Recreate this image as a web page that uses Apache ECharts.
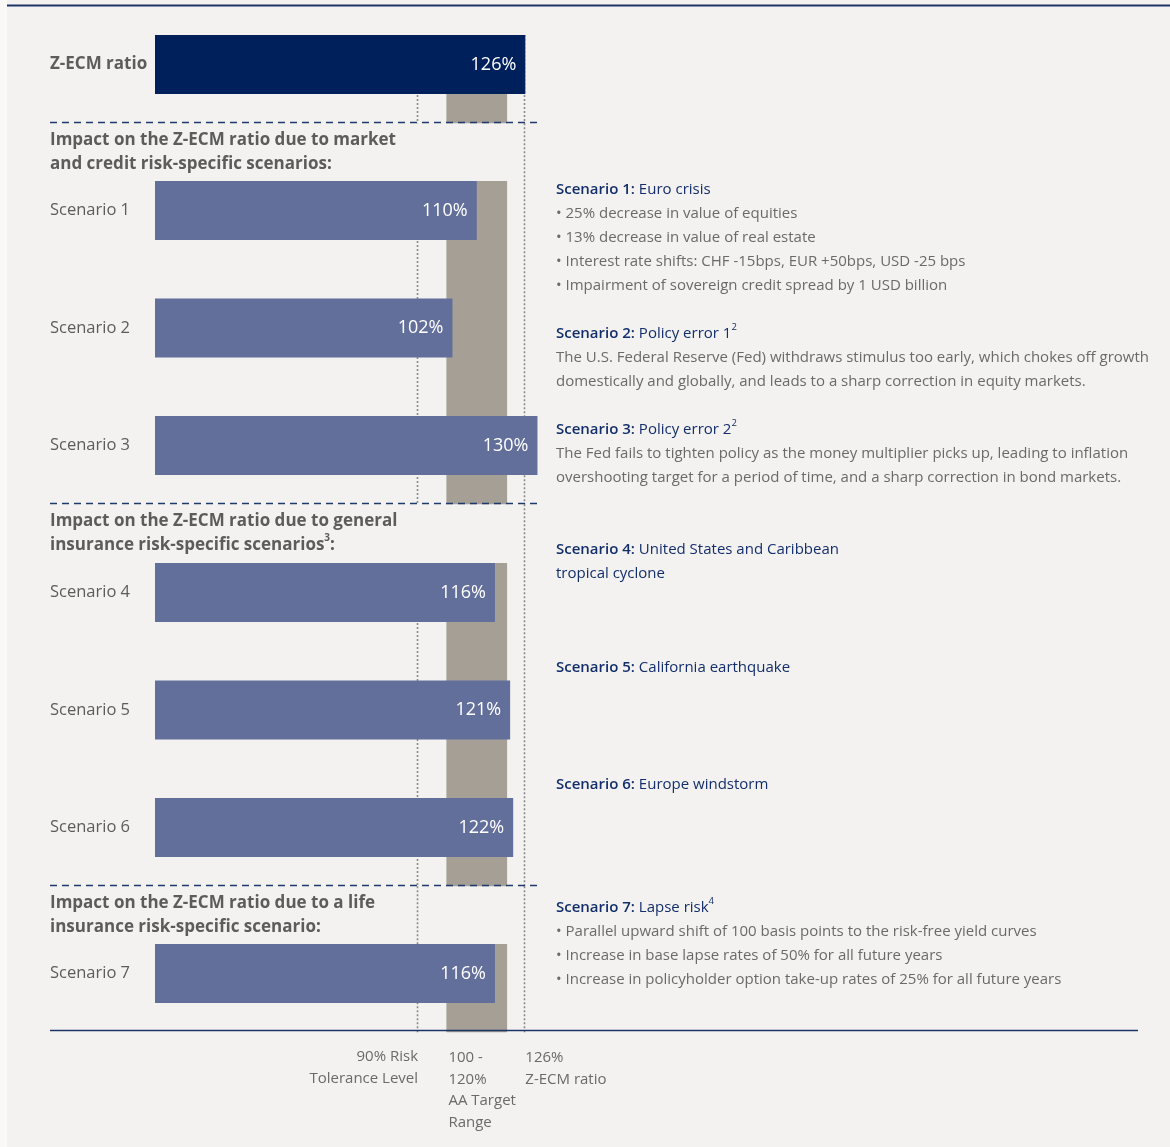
<!DOCTYPE html>
<html><head><meta charset="utf-8">
<script src="https://cdn.jsdelivr.net/npm/echarts@6/dist/echarts.min.js"></script>
<style>html,body{margin:0;padding:0;background:#f3f2f0;} #c{width:1170px;height:1147px;}</style>
</head><body><div id="c"></div>
<script>
// ---------------- DATA ----------------
const sectionCategories = [
  ["Z-ECM ratio"],
  ["Scenario 1", "Scenario 2", "Scenario 3"],
  ["Scenario 4", "Scenario 5", "Scenario 6"],
  ["Scenario 7"]
];
const sectionValues = [
  [126],
  [110, 102, 130],
  [116, 121, 122],
  [116]
];
const sectionHeaders = [
  null,
  ["Impact on the Z-ECM ratio due to market", "and credit risk-specific scenarios:"],
  ["Impact on the Z-ECM ratio due to general", "insurance risk-specific scenarios{sup|3}:"],
  ["Impact on the Z-ECM ratio due to a life", "insurance risk-specific scenario:"]
];
const riskTolerance = 90;
const targetRange = [100, 120];
const currentRatio = 126;
const axisMin = 4, axisMax = 134;

const scenarioLabels = ["Scenario 1:", "Scenario 2:", "Scenario 3:", "Scenario 4:", "Scenario 5:", "Scenario 6:", "Scenario 7:"];
const scenarioNames = [
  "Euro crisis",
  "Policy error 1{sup|2}",
  "Policy error 2{sup|2}",
  "United States and Caribbean\ntropical cyclone",
  "California earthquake",
  "Europe windstorm",
  "Lapse risk{sup|4}"
];
const scenarioDetails = [
  ["• 25% decrease in value of equities",
   "• 13% decrease in value of real estate",
   "• Interest rate shifts: CHF -15bps, EUR +50bps, USD -25 bps",
   "• Impairment of sovereign credit spread by 1 USD billion"],
  ["The U.S. Federal Reserve (Fed) withdraws stimulus too early, which chokes off growth",
   "domestically and globally, and leads to a sharp correction in equity markets."],
  ["The Fed fails to tighten policy as the money multiplier picks up, leading to inflation",
   "overshooting target for a period of time, and a sharp correction in bond markets."],
  [], [], [],
  ["• Parallel upward shift of 100 basis points to the risk-free yield curves",
   "• Increase in base lapse rates of 50% for all future years",
   "• Increase in policyholder option take-up rates of 25% for all future years"]
];
const footLabels = {
  tolerance: "90% Risk\nTolerance Level",
  target: "100 -\n120%\nAA Target\nRange",
  current: "126%\nZ-ECM ratio"
};

// ---------------- STYLE / LAYOUT ----------------
const FONT = "'Open Sans', 'Noto Sans', sans-serif";
const BG = '#f3f2f0';
const NAVY = '#00205b';
const BAR_COLOR = '#636f9b';
const BAND = '#a69f96';
const DOT = '#8a8a8a';
const DASH = '#1f3a6d';
const GRAY_TEXT = '#5c5c5c';
const BODY_TEXT = '#6a6a6a';
const TITLE_NAVY = '#132e6b';
const BAR_H = 59;
const BAND_H = 117.5;
const GRID_LEFT = 155, GRID_WIDTH = 394.6;
const gridTops = [5.75, 151.75, 533.75, 914.75];
const gridHeights = sectionCategories.map(c => c.length * BAND_H);
const tolFromPrev = [false, false, false, true];
const titleCenters = [188, 332, 428, 548, 666, 783, 906];
const LINE_H = 24;
const BODY_FS = 15;

const chart = echarts.init(document.getElementById('c'), null, {renderer: 'canvas'});

const grids = [], xAxes = [], yAxes = [], series = [];
sectionCategories.forEach((cats, i) => {
  grids.push({left: GRID_LEFT, width: GRID_WIDTH, top: gridTops[i], height: gridHeights[i]});
  xAxes.push({type: 'value', gridIndex: i, min: axisMin, max: axisMax, show: false});
  yAxes.push({
    type: 'category', gridIndex: i, data: cats, inverse: true,
    axisLine: {show: false}, axisTick: {show: false}, splitLine: {show: false},
    axisLabel: {
      align: 'left', margin: GRID_LEFT - 50, color: GRAY_TEXT,
      fontSize: i === 0 ? 17 : 16.5, fontFamily: FONT, fontWeight: i === 0 ? 'bold' : 'normal'
    }
  });
  series.push({
    type: 'custom', xAxisIndex: i, yAxisIndex: i, z: 1, clip: false, silent: true,
    data: [[targetRange[0], 0]], encode: {x: 0, y: 1},
    renderItem: function (params, api) {
      const cs = params.coordSys;
      const bottom = cs.y + cs.height;
      const prevBottom = i === 0 ? cs.y : gridTops[i - 1] + gridHeights[i - 1];
      const c0 = api.coord([targetRange[0], 0]);
      const c1 = api.coord([targetRange[1], 0]);
      const barTop = c0[1] - BAR_H / 2;
      const xTol = Math.round(api.coord([riskTolerance, 0])[0]) + 1.5;
      const xCur = Math.round(api.coord([currentRatio, 0])[0]) - 0.5;
      const tolTop = tolFromPrev[i] ? prevBottom : barTop;
      const curTop = i === 0 ? barTop : prevBottom;
      return {type: 'group', children: [
        {type: 'rect', shape: {x: c0[0], y: barTop, width: c1[0] - c0[0], height: bottom - barTop}, style: {fill: BAND}},
        {type: 'line', shape: {x1: xTol, y1: tolTop, x2: xTol, y2: bottom}, style: {stroke: DOT, lineWidth: 1.6, lineDash: [2, 2]}},
        {type: 'line', shape: {x1: xCur, y1: curTop, x2: xCur, y2: bottom}, style: {stroke: DOT, lineWidth: 1.6, lineDash: [2, 2]}}
      ]};
    }
  });
  series.push({
    type: 'bar', xAxisIndex: i, yAxisIndex: i, z: 2, barWidth: BAR_H,
    data: sectionValues[i],
    itemStyle: {color: i === 0 ? NAVY : BAR_COLOR},
    label: {show: true, position: 'insideRight', distance: 9, formatter: '{c}%',
            color: '#ffffff', fontSize: 18, fontFamily: FONT},
    silent: true
  });
});

chart.setOption({
  backgroundColor: BG,
  animation: false,
  grid: grids, xAxis: xAxes, yAxis: yAxes, series: series
});

// ---------------- GRAPHICS (text + rules) ----------------
const g = [];
g.push({type: 'rect', shape: {x: 0, y: 0, width: 7, height: 1147}, style: {fill: '#fbf8f8'}, z: 0});
g.push({type: 'line', shape: {x1: 7, y1: 5.5, x2: 1170, y2: 5.5}, style: {stroke: '#1d3467', lineWidth: 1.8}});
for (let i = 0; i < 3; i++) {
  const y = Math.round(gridTops[i] + gridHeights[i]) - 0.5;
  g.push({type: 'line', shape: {x1: 50, y1: y, x2: 537, y2: y}, style: {stroke: DASH, lineWidth: 1.5, lineDash: [7, 5]}, z: 10});
}
const axisY = Math.round(gridTops[3] + gridHeights[3]) - 1.5;
g.push({type: 'line', shape: {x1: 50, y1: axisY, x2: 1138, y2: axisY}, style: {stroke: '#1d3467', lineWidth: 1.5}, z: 10});

sectionHeaders.forEach((h, i) => {
  if (!h) return;
  const top = gridTops[i - 1] + gridHeights[i - 1] + 4.5;
  g.push({type: 'text', x: 50, y: top, style: {
    text: h.join('\n'), fill: GRAY_TEXT, fontSize: 17, fontWeight: 'bold', fontFamily: FONT,
    lineHeight: LINE_H, verticalAlign: 'top',
    rich: {sup: {fontSize: 10, fontWeight: 'bold', fontFamily: FONT, fill: GRAY_TEXT, verticalAlign: 'top', lineHeight: LINE_H, padding: [0,0,6,0]}}
  }});
});

scenarioLabels.forEach((lab, k) => {
  const nameLines = scenarioNames[k].split('\n');
  const lines = ['{t|' + lab + '} {n|' + nameLines[0].replace(/\{sup\|(\d)\}/, '}{sup|$1}{n|') + '}'];
  for (let j = 1; j < nameLines.length; j++) lines.push('{n|' + nameLines[j] + '}');
  scenarioDetails[k].forEach(l => lines.push('{b|' + l + '}'));
  g.push({type: 'text', x: 556, y: titleCenters[k] - LINE_H / 2 + 2, style: {
    text: lines.join('\n'), fontFamily: FONT, fontSize: BODY_FS, lineHeight: LINE_H, verticalAlign: 'top', fill: BODY_TEXT,
    rich: {
      t: {fill: TITLE_NAVY, fontSize: BODY_FS, fontWeight: 600, fontFamily: FONT, lineHeight: LINE_H},
      n: {fill: TITLE_NAVY, fontSize: BODY_FS, fontFamily: FONT, lineHeight: LINE_H},
      b: {fill: BODY_TEXT, fontSize: BODY_FS, fontFamily: FONT, lineHeight: LINE_H},
      sup: {fill: TITLE_NAVY, fontSize: 9.5, fontFamily: FONT, lineHeight: LINE_H, verticalAlign: 'top', padding: [0,0,6,0]}
    }
  }});
});

const xTolPx = chart.convertToPixel({gridIndex: 3}, [riskTolerance, 0])[0];
const xTgtPx = chart.convertToPixel({gridIndex: 3}, [targetRange[0], 0])[0];
const xCurPx = chart.convertToPixel({gridIndex: 3}, [currentRatio, 0])[0];
const footStyle = {fill: BODY_TEXT, fontSize: 15, fontFamily: FONT, lineHeight: 21.5, verticalAlign: 'top'};
g.push({type: 'text', x: xTolPx + 2, y: 1046, style: Object.assign({}, footStyle, {text: footLabels.tolerance, align: 'right'})});
g.push({type: 'text', x: xTgtPx + 2, y: 1047, style: Object.assign({}, footStyle, {text: footLabels.target, align: 'left'})});
g.push({type: 'text', x: xCurPx, y: 1047, style: Object.assign({}, footStyle, {text: footLabels.current, align: 'left'})});

chart.setOption({graphic: g});
</script>
</body></html>
